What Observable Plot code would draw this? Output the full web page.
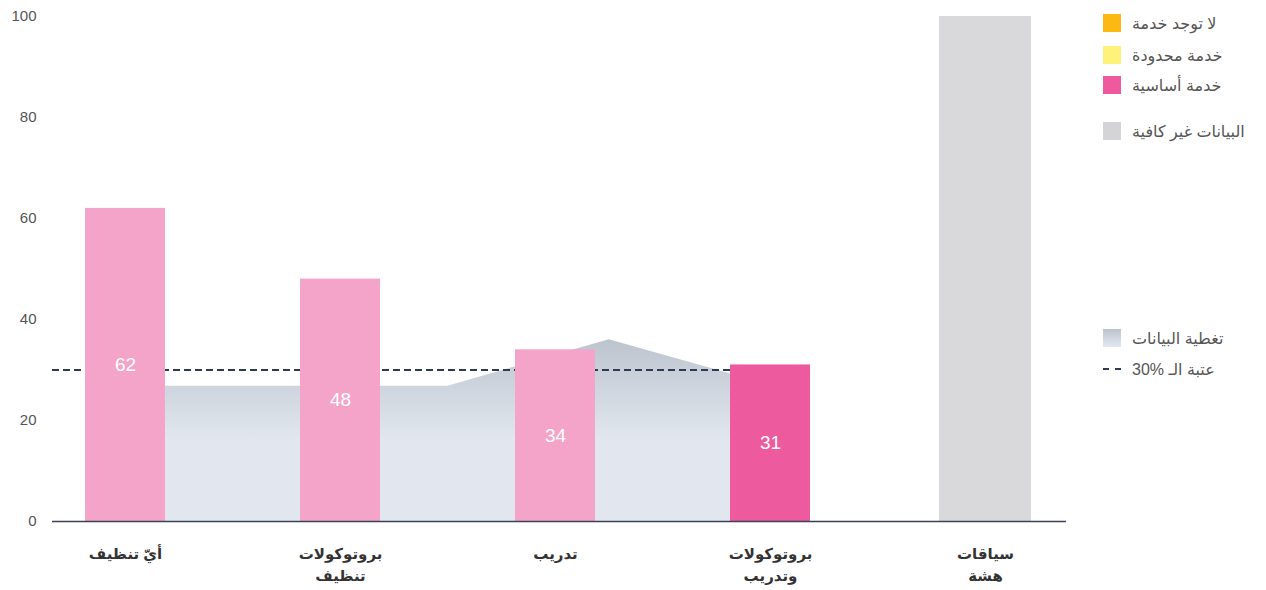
<!DOCTYPE html>
<html><head><meta charset="utf-8">
<script src="https://cdn.jsdelivr.net/npm/d3@7"></script>
<script src="https://cdn.jsdelivr.net/npm/@observablehq/plot@0.6"></script>
<style>
body{margin:0;background:#fff;font-family:"Liberation Sans","DejaVu Sans",Arial,sans-serif}
#wrap{position:relative;width:1266px;height:590px}
.row{position:absolute;left:1103px;height:18px;display:flex;align-items:center;font-size:16px;color:#555;white-space:nowrap}
.sw{width:18px;height:18px;margin-right:11px;flex:none}
.dash{width:18px;height:0;border-top:2px dashed #2e3a50;margin-right:11px;flex:none}
</style></head>
<body><div id="wrap"></div>
<script>
const categories = ["أيّ تنظيف", "بروتوكولات\nتنظيف", "تدريب", "بروتوكولات\nوتدريب", "سياقات\nهشة"];
const values = [62, 48, 34, 31, 100];
const barStatus = ["partial", "partial", "partial", "basic", "insufficient"];
const valueLabels = ["62", "48", "34", "31", ""];
const coverageX = [0, 1, 1.5, 2.25, 3];
const coverageY = [26.8, 26.8, 26.8, 36, 27];
const threshold = 30;
const yTicks = [0, 20, 40, 60, 80, 100];
const legendLabels = ["لا توجد خدمة", "خدمة محدودة", "خدمة أساسية", "البيانات غير كافية", "تغطية البيانات", "عتبة الـ %30"];

const statusColor = {partial: "#f4a4c8", basic: "#ed5a9e", insufficient: "#d9d9db"};
const bars = categories.map((c, i) => ({
  i, category: c, value: values[i], label: valueLabels[i],
  color: statusColor[barStatus[i]],
  hw: barStatus[i] === "insufficient" ? 0.214 : 0.186
}));
const coverage = coverageX.map((x, k) => ({x, y: coverageY[k]}));
const xMin = -0.3395, xMax = 4.3767;

const defs = (index, scales) => {
  const ns = "http://www.w3.org/2000/svg";
  const d = document.createElementNS(ns, "defs");
  const g = document.createElementNS(ns, "linearGradient");
  g.setAttribute("id", "covGrad");
  g.setAttribute("gradientUnits", "userSpaceOnUse");
  g.setAttribute("x1", 0); g.setAttribute("x2", 0);
  g.setAttribute("y1", scales.y(36)); g.setAttribute("y2", scales.y(16));
  [["0", "#bcc4ce"], ["1", "#e2e7ef"]].forEach(([o, c]) => {
    const s = document.createElementNS(ns, "stop");
    s.setAttribute("offset", o); s.setAttribute("stop-color", c);
    g.appendChild(s);
  });
  d.appendChild(g);
  return d;
};

const chart = Plot.plot({
  width: 1266, height: 590,
  marginLeft: 52, marginRight: 200, marginTop: 16, marginBottom: 69,
  style: {fontFamily: '"Liberation Sans","DejaVu Sans",Arial,sans-serif', fontSize: "15px", color: "#555", background: "transparent"},
  x: {domain: [xMin, xMax], axis: null},
  y: {domain: [0, 100], axis: null},
  color: {type: "identity"},
  marks: [
    defs,
    Plot.areaY(coverage, {x: "x", y: "y", fill: "url(#covGrad)"}),
    Plot.ruleY([threshold], {x1: xMin, x2: 3, stroke: "#2e3a50", strokeWidth: 2, strokeDasharray: "7,4"}),
    Plot.rectY(bars, {x1: d => d.i - d.hw, x2: d => d.i + d.hw, y1: 0, y2: "value", fill: d => d.color}),
    Plot.text(bars.filter(d => d.label), {x: "i", y: d => d.value / 2, text: "label", fill: "white", fontSize: 19}),
    Plot.ruleY([0], {stroke: "#3b4157", strokeWidth: 1.5}),
    Plot.axisY({ticks: yTicks, tickSize: 0, tickPadding: 16, label: null, fontSize: 15, fill: "#555"}),
    Plot.text(bars, {x: "i", y: 0, text: "category", dy: 22, lineAnchor: "top", lineHeight: 1.45, fontWeight: "bold", fill: "#333", fontSize: 15})
  ]
});
const wrap = document.getElementById("wrap");
wrap.appendChild(chart);

const legendRows = [
  {top: 14, kind: "sw", color: "#fdb913"},
  {top: 46, kind: "sw", color: "#fff27a"},
  {top: 76, kind: "sw", color: "#ee5a9d"},
  {top: 122, kind: "sw", color: "#d4d4d6"},
  {top: 329, kind: "sw", color: "linear-gradient(#bcc4ce,#e2e7ef)"},
  {top: 360, kind: "dash"}
];
legendRows.forEach((r, k) => {
  const row = document.createElement("div");
  row.className = "row";
  row.style.top = r.top + "px";
  const s = document.createElement("div");
  s.className = r.kind;
  if (r.kind === "sw") s.style.background = r.color;
  const t = document.createElement("span");
  t.dir = "rtl";
  t.textContent = legendLabels[k];
  row.appendChild(s); row.appendChild(t);
  wrap.appendChild(row);
});
</script></body></html>
